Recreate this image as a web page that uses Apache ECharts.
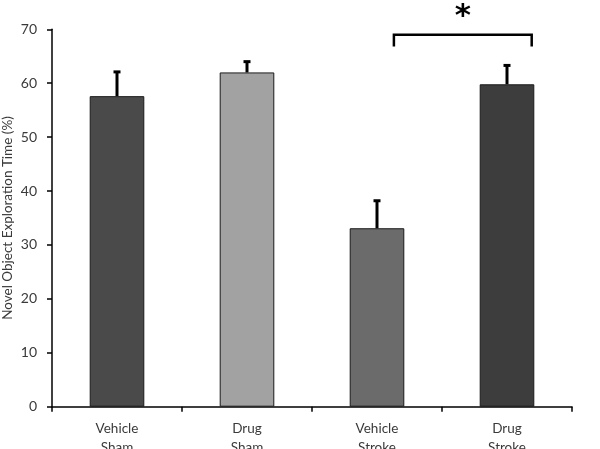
<!DOCTYPE html>
<html><head><meta charset="utf-8">
<script src="https://cdn.jsdelivr.net/npm/echarts@6/dist/echarts.min.js"></script>
<style>html,body{margin:0;padding:0;background:#fff}#c{width:600px;height:449px}</style>
</head><body><div id="c"></div>
<script>
const categories = ['Vehicle\nSham', 'Drug\nSham', 'Vehicle\nStroke', 'Drug\nStroke'];
const means = [57.6, 62.0, 33.1, 59.8];
const errors = [4.5, 2.0, 5.1, 3.5];
const barColors = ['#4a4a4a', '#a2a2a2', '#6b6b6b', '#3d3d3d'];
const yTicks = [0, 10, 20, 30, 40, 50, 60, 70];
// bracket: [fromCategory, fromOffset(band fraction), toCategory, toOffset, topValue, bottomValue, starValue]
const bracket = [2, 0.13, 3, 0.19, 69.0, 66.8, 72.2];
const starText = '*';

const chart = echarts.init(document.getElementById('c'), null, {renderer: 'canvas'});
const font = 'Lato, "Open Sans", sans-serif';
chart.setOption({
  animation: false,
  grid: {left: 52, right: 28, top: 29.3, bottom: 42.3, containLabel: false, outerBoundsMode: 'none'},
  xAxis: {
    type: 'category', data: categories,
    axisLine: {lineStyle: {color: '#000', width: 1.5}},
    axisTick: {show: true, alignWithLabel: false, length: 5, lineStyle: {color: '#000', width: 1.5}},
    axisLabel: {color: '#3a3a3a', fontSize: 13.5, fontFamily: font, margin: 12, lineHeight: 19}
  },
  yAxis: {
    type: 'value', min: yTicks[0], max: yTicks[yTicks.length - 1], interval: 10,
    name: 'Novel Object Exploration Time (%)', nameLocation: 'middle', nameGap: 37,
    nameMoveOverlap: false,
    nameTextStyle: {color: '#3a3a3a', fontSize: 13.5, fontFamily: font},
    splitLine: {show: false},
    axisLine: {show: true, lineStyle: {color: '#000', width: 1.5}},
    axisTick: {show: true, length: 5, lineStyle: {color: '#000', width: 1.5}},
    axisLabel: {color: '#3a3a3a', fontSize: 14, fontFamily: font, margin: 15}
  },
  series: [
    {
      type: 'bar', barWidth: '42%',
      data: means.map((v, i) => ({value: v, itemStyle: {color: barColors[i]}})),
      itemStyle: {borderColor: '#1a1a1a', borderWidth: 1},
      z: 2
    },
    {
      type: 'custom', z: 3,
      data: means.map((v, i) => [i, v, v + errors[i]]),
      renderItem: function (params, api) {
        const p0 = api.coord([api.value(0), api.value(1)]);
        const p1 = api.coord([api.value(0), api.value(2)]);
        return {type: 'group', children: [
          {type: 'line', shape: {x1: p0[0], y1: p0[1], x2: p1[0], y2: p1[1]}, style: {stroke: '#000', lineWidth: 3}},
          {type: 'line', shape: {x1: p1[0] - 3.5, y1: p1[1], x2: p1[0] + 3.5, y2: p1[1]}, style: {stroke: '#000', lineWidth: 3}}
        ]};
      }
    },
    {
      type: 'custom', z: 4, clip: false,
      data: [bracket],
      renderItem: function (params, api) {
        const band = api.size([1, 0])[0];
        const xa = api.coord([api.value(0), 0])[0] + api.value(1) * band;
        const xb = api.coord([api.value(2), 0])[0] + api.value(3) * band;
        const yTop = api.coord([api.value(0), api.value(4)])[1];
        const yBot = api.coord([api.value(0), api.value(5)])[1];
        const yStar = api.coord([api.value(0), api.value(6)])[1];
        return {type: 'group', children: [
          {type: 'polyline', shape: {points: [[xa, yBot], [xa, yTop], [xb, yTop], [xb, yBot]]}, style: {stroke: '#000', lineWidth: 2.5, fill: null}},
          {type: 'text', x: (xa + xb) / 2, y: yStar, style: {text: starText, fill: '#000', font: 'bold 31px "DejaVu Sans", sans-serif', align: 'center', verticalAlign: 'middle'}}
        ]};
      }
    }
  ]
});
</script></body></html>
